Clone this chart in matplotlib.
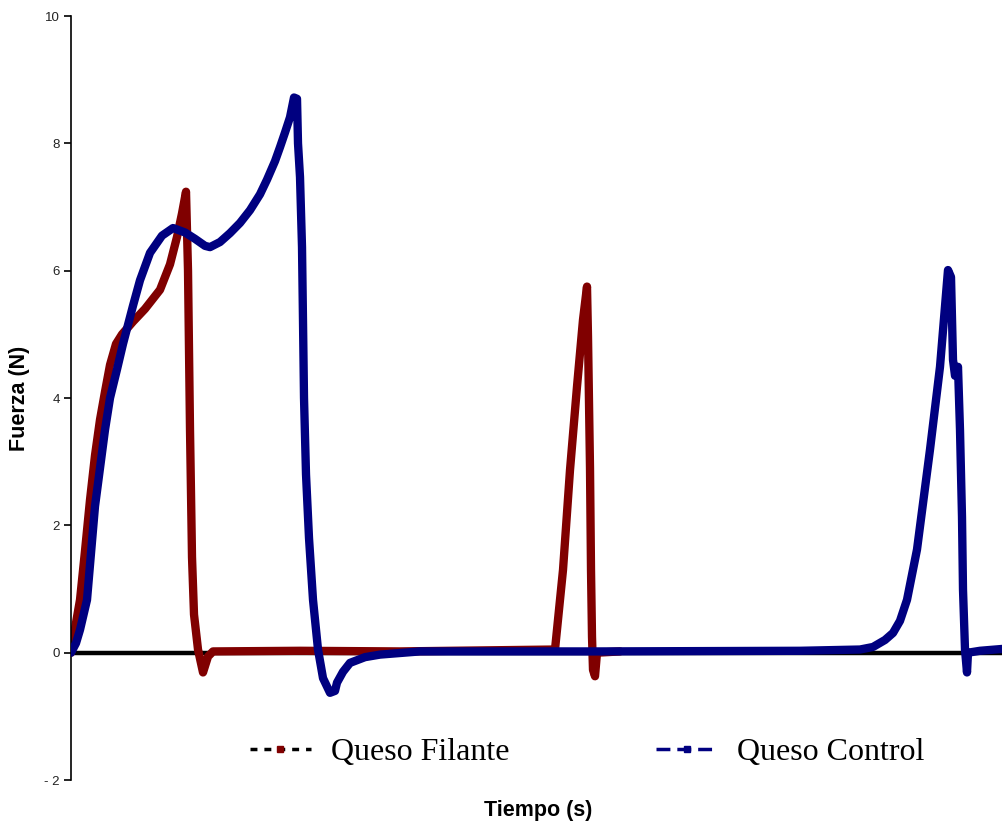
import matplotlib
matplotlib.use("Agg")
import matplotlib.pyplot as plt
from matplotlib.lines import Line2D

# Queso Filante
t_filante = [0.00, 0.10, 0.45, 0.70, 0.95, 1.20, 1.45, 1.70, 1.95, 2.25, 2.55, 3.10, 3.70,
             4.45, 4.95, 5.30, 5.55, 5.75, 5.85, 5.95, 6.05, 6.15, 6.35, 6.60, 6.85, 7.10,
             11.45, 16.45, 24.20, 24.60, 24.95, 25.30, 25.60, 25.80, 25.85, 25.95, 26.00,
             26.05, 26.10, 26.20, 26.30, 27.45]
f_filante = [0.00, 0.20, 0.83, 1.60, 2.40, 3.10, 3.66, 4.10, 4.52, 4.85, 5.00, 5.20, 5.40,
             5.70, 6.10, 6.53, 6.90, 7.24, 6.00, 3.50, 1.50, 0.60, 0.05, -0.31, -0.06, 0.02,
             0.03, 0.02, 0.05, 1.30, 2.87, 4.18, 5.23, 5.75, 4.96, 2.90, 1.30,
             0.25, -0.27, -0.37, 0.00, 0.02]

# Queso Control
t_control = [0.00, 0.25, 0.45, 0.80, 1.20, 1.70, 1.95, 2.30, 2.60, 3.10, 3.45, 3.95, 4.55,
             5.10, 5.70, 6.20, 6.70, 6.95, 7.45, 7.95, 8.45, 8.95, 9.45, 9.80, 10.20, 10.45,
             10.70, 10.95, 11.15, 11.30, 11.35, 11.45, 11.55, 11.60, 11.65, 11.75, 11.90,
             12.10, 12.35, 12.60, 12.95, 13.20, 13.30, 13.60, 13.95, 14.70, 15.45, 17.45,
             26.45, 36.45, 39.45, 40.10, 40.70, 41.10, 41.45, 41.80, 42.30, 42.95, 43.45,
             43.85, 44.00, 44.10, 44.20, 44.30, 44.35, 44.45, 44.55, 44.60, 44.70, 44.80,
             44.85, 45.45, 46.60]
f_control = [0.00, 0.15, 0.36, 0.83, 2.30, 3.50, 4.00, 4.45, 4.85, 5.45, 5.85, 6.28, 6.55,
             6.67, 6.60, 6.50, 6.39, 6.37, 6.45, 6.59, 6.75, 6.95, 7.20, 7.43, 7.72, 7.94,
             8.17, 8.41, 8.72, 8.70, 8.00, 7.47, 6.37, 5.20, 4.00, 2.80, 1.80,
             0.83, 0.05, -0.40, -0.63, -0.60, -0.47, -0.30, -0.16, -0.07, -0.03, 0.02,
             0.02, 0.03, 0.05, 0.09, 0.20, 0.31, 0.50, 0.83, 1.62, 3.19, 4.49,
             6.01, 5.90, 4.60, 4.35, 4.40, 4.49, 3.50, 2.13, 0.99, 0.05, -0.31,
             0.00, 0.03, 0.06]

y_ticks = [-2, 0, 2, 4, 6, 8, 10]
y_ticklabels = ["- 2", "0", "2", "4", "6", "8", "10"]

RED = "#800000"
BLUE = "#000080"

fig = plt.figure(figsize=(10.03, 8.25), dpi=100)
ax = fig.add_axes([0.0708, 0.0545, 0.9292, 0.9261])

ax.axhline(0, color="black", lw=3.2, zorder=1)
ax.plot(t_filante, f_filante, color=RED, lw=6, solid_joinstyle="round",
        solid_capstyle="round", zorder=2)
ax.plot(t_control, f_control, color=BLUE, lw=6, solid_joinstyle="round",
        solid_capstyle="round", zorder=3)

ax.set_xlim(0, 46.6)
ax.set_ylim(-2, 10)
ax.set_yticks(y_ticks)
ax.set_yticklabels(y_ticklabels, fontfamily="Liberation Sans", fontsize=9.5, color="#222222")
ax.set_xticks([])
for s in ["top", "right", "bottom"]:
    ax.spines[s].set_visible(False)
ax.spines["left"].set_linewidth(1.2)
ax.tick_params(axis="y", direction="out", length=5, width=1.2, pad=3)

ax.set_ylabel("Fuerza (N)", fontfamily="Liberation Sans", fontweight="bold", fontsize=15.5)
ax.yaxis.set_label_coords(-0.044, 0.5)
fig.text(0.537, 0.018, "Tiempo (s)", fontfamily="Liberation Sans", fontweight="bold",
         fontsize=15.5, ha="center", va="center")

h1 = Line2D([], [], color="black", ls=(0, (2, 2)), lw=2.5, marker="s", markersize=5,
            markerfacecolor=RED, markeredgecolor=RED)
h2 = Line2D([], [], color=BLUE, ls=(0, (4, 2)), lw=2.5, marker="s", markersize=5,
            markerfacecolor=BLUE, markeredgecolor=BLUE)
leg = ax.legend([h1, h2], ["Queso Filante", "Queso Control"], loc="center",
                bbox_to_anchor=(0.554, 0.036), ncol=2, frameon=False, numpoints=1,
                prop={"family": "Liberation Serif", "size": 23}, handlelength=1.9,
                columnspacing=4.6, handletextpad=0.63, borderpad=0.1)

fig.savefig("out.png", dpi=100)
